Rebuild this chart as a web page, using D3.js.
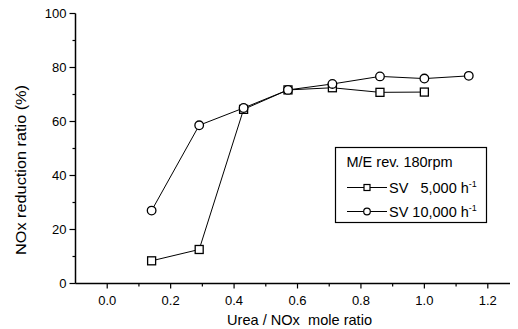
<!DOCTYPE html>
<html>
<head>
<meta charset="utf-8">
<script src="https://cdn.jsdelivr.net/npm/d3@7"></script>
<style>
  html, body { margin: 0; padding: 0; background: #fff; }
  svg { display: block; }
  text { font-family: "Liberation Sans", Arial, Helvetica, sans-serif; fill: #000; }
</style>
</head>
<body>
<svg id="chart" width="518" height="329"></svg>
<script>
// ---- data ----
const sv5000X = [0.14, 0.29, 0.43, 0.57, 0.71, 0.86, 1.00];
const sv5000Y = [8.4, 12.6, 64.5, 71.7, 72.5, 70.8, 70.9];
const sv10000X = [0.14, 0.29, 0.43, 0.57, 0.71, 0.86, 1.00, 1.14];
const sv10000Y = [27.0, 58.6, 65.0, 71.7, 73.9, 76.7, 75.9, 76.9];
const xTickValues = [0.0, 0.2, 0.4, 0.6, 0.8, 1.0, 1.2];
const xMinorTicks = [0.1, 0.3, 0.5, 0.7, 0.9, 1.1];
const yTickValues = [0, 20, 40, 60, 80, 100];
const yMinorTicks = [10, 30, 50, 70, 90];
const legendTitle = "M/E rev. 180rpm";
const seriesNames = ["SV\u00a0\u00a0\u00a05,000 h", "SV 10,000 h"];
const xTitle = "Urea / NOx\u00a0\u00a0mole ratio";
const yTitle = "NOx reduction ratio (%)";

// ---- layout ----
const svg = d3.select("#chart");
const x = d3.scaleLinear().domain([-0.1, 1.27]).range([75.5, 510]);
const y = d3.scaleLinear().domain([0, 100]).range([283.5, 13.5]);

const fontSize = 13;

// axes
const xAxis = svg.append("g").attr("transform", `translate(0,${y(0)})`);
xAxis.append("line").attr("x1", x.range()[0]).attr("x2", x.range()[1])
  .attr("stroke", "#000").attr("stroke-width", 1.5);
xAxis.selectAll(".maj").data(xTickValues).join("line")
  .attr("x1", d => x(d)).attr("x2", d => x(d)).attr("y1", 0).attr("y2", 5)
  .attr("stroke", "#000").attr("stroke-width", 1.2);
xAxis.selectAll(".min").data(xMinorTicks).join("line")
  .attr("x1", d => x(d)).attr("x2", d => x(d)).attr("y1", 0).attr("y2", 3)
  .attr("stroke", "#000").attr("stroke-width", 1.2);
xAxis.selectAll("text").data(xTickValues).join("text")
  .attr("x", d => x(d)).attr("y", 21).attr("text-anchor", "middle")
  .attr("font-size", fontSize).text(d => d.toFixed(1));

const yAxis = svg.append("g").attr("transform", `translate(${x(-0.1)},0)`);
yAxis.append("line").attr("y1", y(0)).attr("y2", y(100))
  .attr("stroke", "#000").attr("stroke-width", 1.5);
yAxis.selectAll(".maj").data(yTickValues).join("line")
  .attr("y1", d => y(d)).attr("y2", d => y(d)).attr("x1", 0).attr("x2", -6)
  .attr("stroke", "#000").attr("stroke-width", 1.2);
yAxis.selectAll(".min").data(yMinorTicks).join("line")
  .attr("y1", d => y(d)).attr("y2", d => y(d)).attr("x1", 0).attr("x2", -3)
  .attr("stroke", "#000").attr("stroke-width", 1.2);
yAxis.selectAll("text").data(yTickValues).join("text")
  .attr("x", -9).attr("y", d => y(d)).attr("dy", "0.35em").attr("text-anchor", "end")
  .attr("font-size", fontSize).text(d => d);

// titles
svg.append("text").attr("x", 299.5).attr("y", 325).attr("text-anchor", "middle")
  .attr("font-size", 14.5).attr("textLength", 145).attr("lengthAdjust", "spacingAndGlyphs")
  .text(xTitle);
svg.append("text").attr("transform", `translate(26,170) rotate(-90)`)
  .attr("text-anchor", "middle").attr("font-size", 14.5)
  .attr("textLength", 170).attr("lengthAdjust", "spacingAndGlyphs").text(yTitle);

// lines
const line = d3.line().x(d => x(d[0])).y(d => y(d[1]));
const s1 = sv5000X.map((v, i) => [v, sv5000Y[i]]);
const s2 = sv10000X.map((v, i) => [v, sv10000Y[i]]);
svg.append("path").attr("d", line(s2)).attr("fill", "none").attr("stroke", "#000").attr("stroke-width", 1);
svg.append("path").attr("d", line(s1)).attr("fill", "none").attr("stroke", "#000").attr("stroke-width", 1);

// markers
const sq = 8;
svg.selectAll(".sq").data(s1).join("rect")
  .attr("x", d => x(d[0]) - sq / 2).attr("y", d => y(d[1]) - sq / 2)
  .attr("width", sq).attr("height", sq)
  .attr("fill", "#fff").attr("stroke", "#000").attr("stroke-width", 1.3);
svg.selectAll(".ci").data(s2).join("circle")
  .attr("cx", d => x(d[0])).attr("cy", d => y(d[1])).attr("r", 4.3)
  .attr("fill", "#fff").attr("stroke", "#000").attr("stroke-width", 1.3);

// legend
const lg = svg.append("g");
lg.append("rect").attr("x", 335.5).attr("y", 147.5).attr("width", 151).attr("height", 75)
  .attr("fill", "#fff").attr("stroke", "#000").attr("stroke-width", 1.2);
lg.append("text").attr("x", 346.5).attr("y", 167).attr("font-size", 14.5).text(legendTitle);
const rowsY = [187.5, 211.5];
rowsY.forEach((ry, i) => {
  lg.append("line").attr("x1", 347).attr("x2", 387).attr("y1", ry).attr("y2", ry)
    .attr("stroke", "#000").attr("stroke-width", 1);
  if (i === 0) {
    lg.append("rect").attr("x", 364).attr("y", ry - 3).attr("width", 6).attr("height", 6)
      .attr("fill", "#fff").attr("stroke", "#000").attr("stroke-width", 1.2);
  } else {
    lg.append("circle").attr("cx", 367).attr("cy", ry).attr("r", 3.3)
      .attr("fill", "#fff").attr("stroke", "#000").attr("stroke-width", 1.2);
  }
  const t = lg.append("text").attr("x", 389).attr("y", ry + 5).attr("font-size", 14.5);
  t.append("tspan").text(seriesNames[i]);
  t.append("tspan").attr("font-size", 9).attr("dy", -6).text("-1");
});
</script>
</body>
</html>
